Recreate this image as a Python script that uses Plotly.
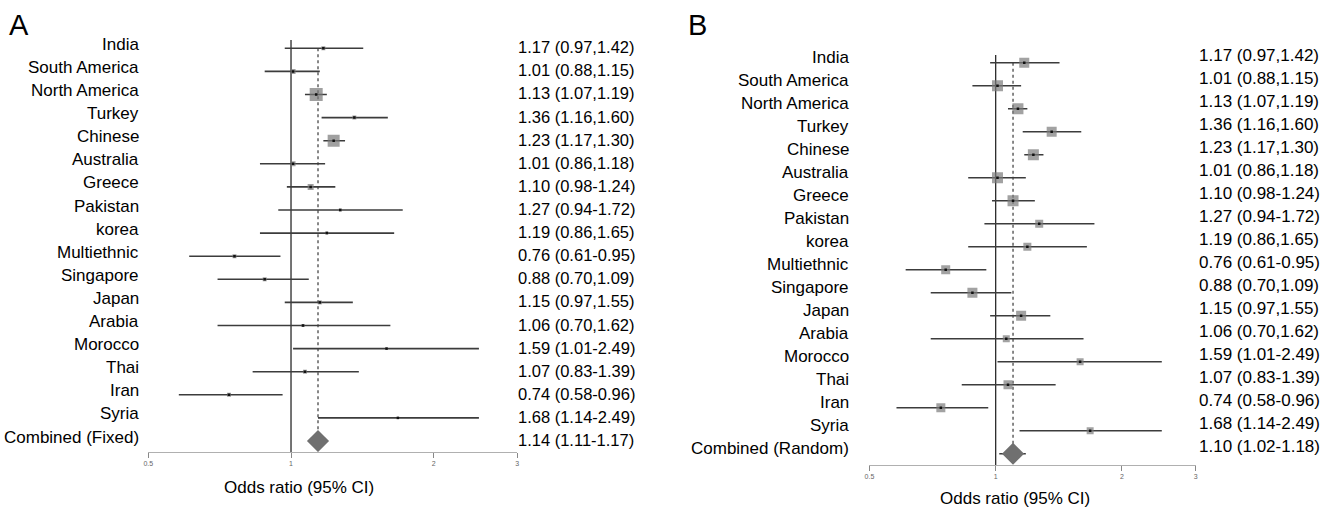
import math
import plotly.graph_objects as go

# ---------------- data ----------------
studies = ["India", "South America", "North America", "Turkey", "Chinese", "Australia",
           "Greece", "Pakistan", "korea", "Multiethnic", "Singapore", "Japan", "Arabia",
           "Morocco", "Thai", "Iran", "Syria"]
odds_ratio = [1.17, 1.01, 1.13, 1.36, 1.23, 1.01, 1.10, 1.27, 1.19, 0.76, 0.88, 1.15, 1.06,
              1.59, 1.07, 0.74, 1.68]
ci_low = [0.97, 0.88, 1.07, 1.16, 1.17, 0.86, 0.98, 0.94, 0.86, 0.61, 0.70, 0.97, 0.70,
          1.01, 0.83, 0.58, 1.14]
ci_high = [1.42, 1.15, 1.19, 1.60, 1.30, 1.18, 1.24, 1.72, 1.65, 0.95, 1.09, 1.35, 1.62,
           2.49, 1.39, 0.96, 2.49]
value_text = ["1.17 (0.97,1.42)", "1.01 (0.88,1.15)", "1.13 (1.07,1.19)", "1.36 (1.16,1.60)",
              "1.23 (1.17,1.30)", "1.01 (0.86,1.18)", "1.10 (0.98-1.24)", "1.27 (0.94-1.72)",
              "1.19 (0.86,1.65)", "0.76 (0.61-0.95)", "0.88 (0.70,1.09)", "1.15 (0.97,1.55)",
              "1.06 (0.70,1.62)", "1.59 (1.01-2.49)", "1.07 (0.83-1.39)", "0.74 (0.58-0.96)",
              "1.68 (1.14-2.49)"]
# relative study weights (box sizes)
weight_fixed = [4, 5, 13, 4, 12, 5, 6, 3, 3, 4, 4, 4, 3, 2, 4, 4, 2]
weight_random = [10, 11, 11, 10, 11, 11, 11, 8, 8, 9, 10, 10, 7, 7, 9, 9, 7]

fixed_label = "Combined (Fixed)"
fixed_or, fixed_low, fixed_high = 1.14, 1.11, 1.17
fixed_text = "1.14 (1.11-1.17)"
random_label = "Combined (Random)"
random_or, random_low, random_high = 1.10, 1.02, 1.18
random_text = "1.10 (1.02-1.18)"

tick_vals = [0.5, 1, 2, 3]
tick_text = ["0.5", "1", "2", "3"]
axis_title = "Odds ratio (95% CI)"

# ---------------- figure ----------------
W, H = 1338, 509
FONT = "Liberation Sans, Arial, sans-serif"
fig = go.Figure()

n = len(studies)
rows = list(range(n))
comb_row = n


def add_panel(xa, ya, weights, c_or, c_lo, c_hi, ytop, ybot, box_col):
    # reference line at OR = 1
    fig.add_trace(go.Scatter(x=[1, 1], y=[ytop, ybot], mode="lines",
                             line=dict(color="#2a2a2a", width=1.3),
                             xaxis=xa, yaxis=ya, hoverinfo="skip"))
    # dotted line at pooled estimate
    fig.add_trace(go.Scatter(x=[c_or, c_or], y=[0, comb_row], mode="lines",
                             line=dict(color="#555555", width=1.4, dash="dot"),
                             xaxis=xa, yaxis=ya, hoverinfo="skip"))
    # CI lines
    xs, ys = [], []
    for i in rows:
        xs += [ci_low[i], ci_high[i], None]
        ys += [i, i, None]
    xs += [c_lo, c_hi, None]
    ys += [comb_row, comb_row, None]
    fig.add_trace(go.Scatter(x=xs, y=ys, mode="lines",
                             line=dict(color="#3c3c3c", width=1.6),
                             xaxis=xa, yaxis=ya, hoverinfo="skip"))
    # boxes
    fig.add_trace(go.Scatter(x=odds_ratio, y=rows, mode="markers",
                             marker=dict(symbol="square", size=weights, color=box_col,
                                         line=dict(width=0)),
                             xaxis=xa, yaxis=ya, hoverinfo="skip"))
    fig.add_trace(go.Scatter(x=odds_ratio, y=rows, mode="markers",
                             marker=dict(symbol="square", size=2.5, color="#111111"),
                             xaxis=xa, yaxis=ya, hoverinfo="skip"))
    # pooled diamond
    fig.add_trace(go.Scatter(x=[c_or], y=[comb_row], mode="markers",
                             marker=dict(symbol="diamond", size=17, color="#707070",
                                         line=dict(width=0)),
                             xaxis=xa, yaxis=ya, hoverinfo="skip"))


add_panel("x", "y", weight_fixed, fixed_or, fixed_low, fixed_high, -0.36, 17.48, "#777777")
add_panel("x2", "y2", weight_random, random_or, random_low, random_high, -0.335, 17.49, "#7a7a7a")

xr = [math.log10(0.5), math.log10(3)]
xaxis_common = dict(type="log", range=xr, tickvals=tick_vals, ticktext=tick_text,
                    showline=True, linecolor="#b0b0b0", linewidth=1, ticks="outside",
                    ticklen=5, tickcolor="#888888", tickwidth=1,
                    tickfont=dict(size=7, color="#666666", family=FONT),
                    showgrid=False, zeroline=False, fixedrange=True)
yaxis_common = dict(visible=False, showgrid=False, zeroline=False, fixedrange=True)

fig.update_layout(
    width=W, height=H, margin=dict(l=0, r=0, t=0, b=0),
    paper_bgcolor="white", plot_bgcolor="white", showlegend=False,
    hovermode=False,
    xaxis=dict(domain=[144 / W, 515 / W], anchor="y", **xaxis_common),
    yaxis=dict(domain=[1 - 452 / H, 1 - 40 / H], range=[17.476, -0.359], **yaxis_common),
    xaxis2=dict(domain=[869 / W, 1197 / W], anchor="y2", **xaxis_common),
    yaxis2=dict(domain=[1 - 465 / H, 1 - 55 / H], range=[17.49, -0.335], **yaxis_common),
)

ann = []
labels_a = studies + [fixed_label]
labels_b = studies + [random_label]
vals_a = value_text + [fixed_text]
vals_b = value_text + [random_text]
TXT = "#000000"
for i in range(n + 1):
    ann.append(dict(text=labels_a[i], xref="paper", yref="y", x=137 / W, y=i,
                    xanchor="right", yanchor="middle", yshift=4, showarrow=False,
                    font=dict(size=17, color=TXT, family=FONT)))
    ann.append(dict(text=vals_a[i], xref="paper", yref="y", x=514 / W, y=i,
                    xanchor="left", yanchor="middle", yshift=1, showarrow=False,
                    font=dict(size=16.5, color=TXT, family=FONT)))
    ann.append(dict(text=labels_b[i], xref="paper", yref="y2", x=850 / W, y=i,
                    xanchor="right", yanchor="middle", yshift=5, showarrow=False,
                    font=dict(size=17, color=TXT, family=FONT)))
    ann.append(dict(text=vals_b[i], xref="paper", yref="y2", x=1198 / W, y=i,
                    xanchor="left", yanchor="middle", yshift=7, showarrow=False,
                    font=dict(size=17, color=TXT, family=FONT)))

ann.append(dict(text=axis_title, xref="paper", yref="paper", x=296 / W, y=1 - 487 / H,
                xanchor="center", yanchor="middle", showarrow=False,
                font=dict(size=17, color=TXT, family=FONT)))
ann.append(dict(text=axis_title, xref="paper", yref="paper", x=1015 / W, y=1 - 498 / H,
                xanchor="center", yanchor="middle", showarrow=False,
                font=dict(size=17, color=TXT, family=FONT)))
ann.append(dict(text="A", xref="paper", yref="paper", x=2 / W, y=1 - 25 / H,
                xanchor="left", yanchor="middle", showarrow=False,
                font=dict(size=29, color=TXT, family=FONT)))
ann.append(dict(text="B", xref="paper", yref="paper", x=685 / W, y=1 - 25 / H,
                xanchor="left", yanchor="middle", showarrow=False,
                font=dict(size=29, color=TXT, family=FONT)))
fig.update_layout(annotations=ann)

fig.write_html("out.html", config={"displayModeBar": False},
               post_script="document.body.style.margin='0';document.body.style.overflow='hidden';")
